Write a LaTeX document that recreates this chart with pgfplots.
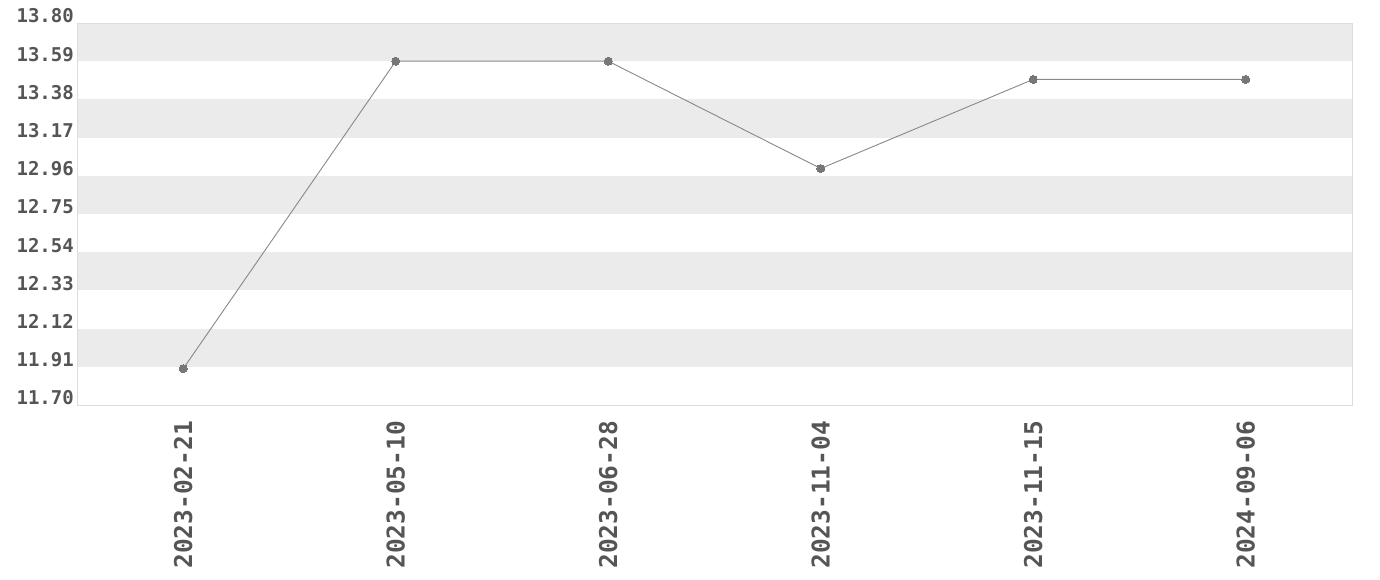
\documentclass[border=0pt]{standalone}
\usepackage{fontspec}
\setmonofont{DejaVu Sans Mono}
\usepackage{pgfplots}
\pgfplotsset{compat=1.18}
\definecolor{bandgray}{HTML}{EBEBEB}
\definecolor{framegray}{HTML}{DDDDDD}
\definecolor{linegray}{HTML}{888888}
\definecolor{markgray}{HTML}{777777}
\definecolor{labelgray}{HTML}{555555}
\begin{document}
\begin{tikzpicture}[x=1bp,y=1bp]
\useasboundingbox (0,0) rectangle (1380,580);
\begin{axis}[
  at={(77bp,175bp)}, anchor=south west,
  scale only axis, width=1275bp, height=382bp,
  xmin=-0.5, xmax=5.5, ymin=11.70, ymax=13.80,
  axis line style={framegray, line width=0.8bp},
  xtick={0,...,5},
  xticklabels={2023-02-21,2023-05-10,2023-06-28,2023-11-04,2023-11-15,2024-09-06},
  ytick={11.70,11.91,12.12,12.33,12.54,12.75,12.96,13.17,13.38,13.59,13.80},
  yticklabels={11.70,11.91,12.12,12.33,12.54,12.75,12.96,13.17,13.38,13.59,13.80},
  major tick length=0pt,
  tick style={draw=none},
  ticklabel style={text=labelgray},
  yticklabel style={font=\fontsize{19bp}{22bp}\selectfont\ttfamily\bfseries,
    anchor=base east, inner sep=0pt, xshift=-3bp},
  xticklabel style={font=\fontsize{24.5bp}{28bp}\selectfont\ttfamily\bfseries,
    rotate=90, anchor=east, inner sep=0pt, xshift=-1bp},
  xticklabel shift=15bp,
  clip=false,
]
% alternating horizontal bands
\fill[bandgray] (axis cs:-0.5,13.59) rectangle (axis cs:5.5,13.80);
\fill[bandgray] (axis cs:-0.5,13.17) rectangle (axis cs:5.5,13.38);
\fill[bandgray] (axis cs:-0.5,12.75) rectangle (axis cs:5.5,12.96);
\fill[bandgray] (axis cs:-0.5,12.33) rectangle (axis cs:5.5,12.54);
\fill[bandgray] (axis cs:-0.5,11.91) rectangle (axis cs:5.5,12.12);
\draw[framegray, line width=0.8bp] (axis cs:-0.5,11.70) rectangle (axis cs:5.5,13.80);
\addplot[linegray, line width=0.9bp, mark=*, mark size=4bp,
  mark options={fill=markgray, draw=markgray, line width=0pt}]
  coordinates {(0,11.90) (1,13.59) (2,13.59) (3,13.00) (4,13.49) (5,13.49)};
\end{axis}
\end{tikzpicture}
\end{document}
